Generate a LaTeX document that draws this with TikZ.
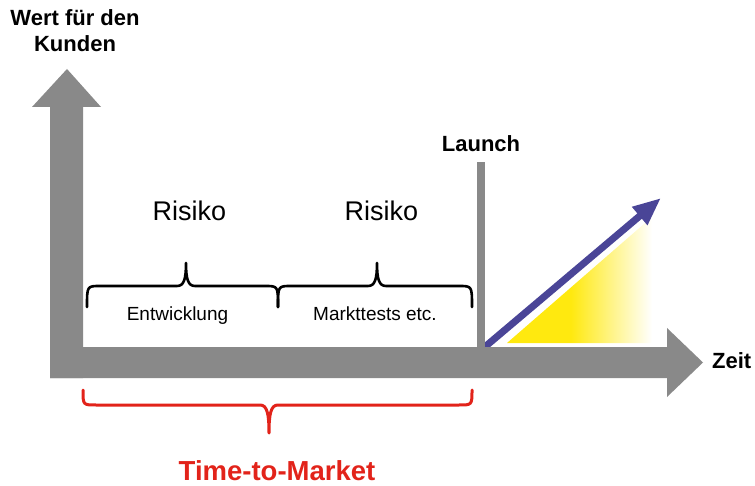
\documentclass[tikz,border=0pt]{standalone}
\usepackage{fontspec}
\setmainfont{Liberation Sans}
\usepackage{xcolor}
\usepackage{tikz}
\usetikzlibrary{arrows.meta}
\definecolor{axisgray}{HTML}{898989}
\definecolor{launchblue}{HTML}{4A4597}
\definecolor{ttmred}{HTML}{E2231A}
\definecolor{ylw}{HTML}{FFE90F}
\pgfdeclarehorizontalshading{yfade}{100bp}{color(0bp)=(ylw); color(25bp)=(ylw); color(47bp)=(ylw); color(75bp)=(white); color(100bp)=(white)}
\tikzset{
  axis/.style={fill=axisgray},
  brc/.style={draw=black, line width=2.6pt, line cap=round, line join=round},
  redbrc/.style={draw=ttmred, line width=3pt, line cap=round, line join=round},
  boldlab/.style={font=\fontsize{22}{26}\selectfont\bfseries, inner sep=0pt},
  risk/.style={font=\fontsize{27}{30}\selectfont, inner sep=0pt},
  phase/.style={font=\fontsize{19}{22}\selectfont, inner sep=0pt},
  ttm/.style={text=ttmred, font=\fontsize{27.5}{30}\selectfont\bfseries, inner sep=0pt}
}
\newcommand{\CurlyBrace}[7][]{%
  % #1 = style, #2 = left x, #3 = right x, #4 = tip x, #5 = end y, #6 = line y, #7 = tip y
  \draw[#1] (#2,#5) .. controls (#2,#6) and (#2,#6) .. ({#2+13},#6)
    -- ({#4-9},#6) .. controls ({#4-2},#6) and (#4,{#6+0.3*(#7-#6)}) .. (#4,#7)
    .. controls (#4,{#6+0.3*(#7-#6)}) and ({#4+2},#6) .. ({#4+9},#6)
    -- ({#3-13},#6) .. controls (#3,#6) and (#3,#6) .. (#3,#5);
}

\begin{document}
\begin{tikzpicture}[x=1pt, y=-1pt, line cap=round, line join=round]
  \useasboundingbox (0,0) rectangle (755,486);
  % growth after launch
  \shade[shading=yfade] (507,343) -- (652,217) -- (652,343) -- cycle;
  \draw[launchblue, line width=7pt, line cap=butt, -{Triangle[length=28pt,width=22pt]}] (480,351) -- (661,198);
  % axes
  \fill[axis] (50,378) -- (50,107) -- (32,107) -- (67,69) -- (101,107) -- (83,107) -- (83,378) -- cycle;
  \fill[axis] (50,347) -- (667,347) -- (667,328) -- (703,362.5) -- (667,397) -- (667,378) -- (50,378) -- cycle;
  \fill[axis] (477,162) rectangle (485,378);
  % braces
  \CurlyBrace[brc]{87}{278}{186}{307}{286}{263}
  \CurlyBrace[brc]{278}{472}{377}{307}{286}{263}
  \CurlyBrace[redbrc]{83}{472}{269}{390}{405}{433}
  % labels
  \node[boldlab, align=center, anchor=base] (wert) at (75,52) {Wert für den\\Kunden};
  \node[boldlab, anchor=base] (launch) at (481,152) {Launch};
  \node[boldlab, anchor=base west] (zeit) at (712,368) {Zeit};
  \node[risk, anchor=base] (risk1) at (189.5,221) {Risiko};
  \node[risk, anchor=base] (risk2) at (381.5,221) {Risiko};
  \node[phase, anchor=base] (entw) at (177.5,320) {Entwicklung};
  \node[phase, anchor=base] (markt) at (375,320) {Markttests etc.};
  \node[ttm, anchor=base] (ttmlab) at (277,480) {Time-to-Market};
\end{tikzpicture}
\end{document}
